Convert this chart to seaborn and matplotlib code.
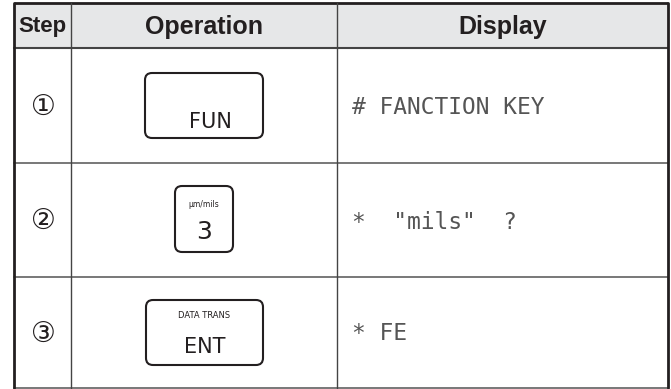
import matplotlib
matplotlib.use("Agg")
import matplotlib.pyplot as plt
from matplotlib.patches import FancyBboxPatch, Rectangle
import seaborn as sns

# table content
headers = ["Step", "Operation", "Display"]
steps = ["①", "②", "③"]
key_top = ["", "μm/mils", "DATA TRANS"]
key_main = ["FUN", "3", "ENT"]
display_text = ["# FANCTION KEY", '*  "mils"  ?', "* FE"]

sns.set_theme(style="white")
plt.rcParams["font.family"] = ["DejaVu Sans"]

W, H = 671, 389
fig = plt.figure(figsize=(W / 100, H / 100), dpi=100)
ax = fig.add_axes([0, 0, 1, 1])
ax.set_xlim(0, W)
ax.set_ylim(H, 0)
ax.axis("off")

# grid geometry (pixels)
left, right = 14, 668
col_x = [14, 71, 337, 668]
top, head_bot = 3, 48
row_y = [48, 163, 277, 388]
dark = "#231f20"
grey = "#6d6d6d"

# header background
ax.add_patch(Rectangle((left, top), right - left, head_bot - top,
                       facecolor="#e6e7e8", edgecolor="none", zorder=0))

# horizontal lines
ax.plot([left, right], [top, top], color=dark, lw=2.0, solid_capstyle="butt")
ax.plot([left, right], [head_bot, head_bot], color="#444444", lw=1.5)
for y in row_y[1:3]:
    ax.plot([left, right], [y, y], color=grey, lw=1.3)
ax.plot([left, right], [row_y[-1], row_y[-1]], color=grey, lw=1.3)

# vertical lines
ax.plot([left, left], [top, row_y[-1]], color=dark, lw=2.0)
ax.plot([right, right], [top, row_y[-1]], color=dark, lw=2.0)
for x in col_x[1:3]:
    ax.plot([x, x], [top, row_y[-1]], color="#444444", lw=1.0)

# header texts
hx = [(col_x[i] + col_x[i + 1]) / 2 for i in range(3)]
hy = (top + head_bot) / 2 + 1
ax.text(hx[0], hy, headers[0], ha="center", va="center", fontsize=16,
        fontweight="bold", family="Liberation Sans", color=dark)
for i in (1, 2):
    ax.text(hx[i], hy, headers[i], ha="center", va="center", fontsize=18,
            fontweight="bold", family="Liberation Sans", color=dark)

row_c = [(row_y[i] + row_y[i + 1]) / 2 for i in range(3)]

# step numbers
for i, s in enumerate(steps):
    ax.text(43, row_c[i] + 1, s, ha="center", va="center", fontsize=20,
            color=dark)

# key boxes
boxes = [(145, 73, 118, 65), (175, 186, 58, 66), (146, 300, 117, 65)]
for i, (bx, by, bw, bh) in enumerate(boxes):
    ax.add_patch(FancyBboxPatch((bx, by), bw, bh,
                                boxstyle="round,pad=0,rounding_size=7",
                                facecolor="white", edgecolor=dark, lw=1.5))
    cx = bx + bw / 2
    if i == 0:
        ax.text(cx + 6, 122, key_main[i], ha="center", va="center",
                fontsize=15, color=dark)
    elif i == 1:
        ax.text(cx, 204, key_top[i], ha="center", va="center",
                fontsize=5.5, color=dark)
        ax.text(cx, 232, key_main[i], ha="center", va="center",
                fontsize=18, color=dark)
    else:
        ax.text(cx, 316, key_top[i], ha="center", va="center",
                fontsize=6, color=dark)
        ax.text(cx, 347, key_main[i], ha="center", va="center",
                fontsize=15, color=dark)

# display texts
disp_y = [107, 222, 333]
for i, t in enumerate(display_text):
    ax.text(352, disp_y[i], t, ha="left", va="center", fontsize=16.5,
            family="DejaVu Sans Mono", color="#555555")

fig.savefig("out.png", dpi=100)
